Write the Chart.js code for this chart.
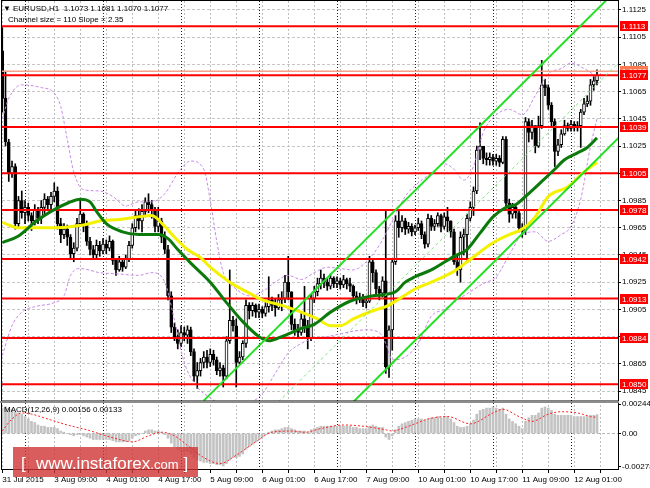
<!DOCTYPE html>
<html>
<head>
<meta charset="utf-8">
<script src="https://cdn.jsdelivr.net/npm/chart.js@4.4.1/dist/chart.umd.min.js"></script>
<style>
  html, body { margin: 0; padding: 0; background: #fff; }
  #wrap { width: 650px; height: 488px; }
</style>
</head>
<body>
<div id="wrap"><canvas id="chart" width="650" height="488"></canvas></div>
<script>
// EURUSD H1, 31 Jul 17:00 .. 12 Aug 08:00 (bar index 0..183)
const timeLabels = ['31 Jul 2015', '3 Aug 09:00', '4 Aug 01:00', '4 Aug 17:00', '5 Aug 09:00', '6 Aug 01:00',
  '6 Aug 17:00', '7 Aug 09:00', '10 Aug 01:00', '10 Aug 17:00', '11 Aug 09:00', '12 Aug 01:00'];
const daySeparators = [7, 31, 55, 79, 103, 127, 151, 175];
const priceTicks = [1.0845, 1.0865, 1.0885, 1.0905, 1.0925, 1.0945, 1.0965, 1.0985,
  1.1005, 1.1025, 1.1045, 1.1065, 1.1085, 1.1105, 1.1125];
const macdTicks = [0.00244, 0, -0.00278];
const macdTickLabels = ['0.00244', '0.00', '-0.00278'];

// support / resistance levels
const levels = [1.1113, 1.1077, 1.1039, 1.1005, 1.0978, 1.0942, 1.0913, 1.0884, 1.0850];
const bidLevel = 1.1080;

const firstOpen = 1.1095;
const closes = [
  1.1060,1.1028,1.1005,1.1010,1.0968,1.0985,1.0976,1.0980,1.0974,1.0970,
  1.0978,1.0972,1.0980,1.0986,1.0982,1.0988,1.0992,1.0968,1.0960,1.0964,
  1.0958,1.0946,1.0950,1.0968,1.0975,1.0968,1.0955,1.0949,1.0945,1.0952,
  1.0948,1.0953,1.0950,1.0955,1.0941,1.0934,1.0940,1.0936,1.0942,1.0952,
  1.0965,1.0974,1.0970,1.0977,1.0984,1.0982,1.0978,1.0966,1.0970,1.0958,
  1.0949,1.0915,1.0892,1.0885,1.0880,1.0888,1.0886,1.0890,1.0874,1.0856,
  1.0860,1.0866,1.0870,1.0866,1.0872,1.0868,1.0860,1.0862,1.0856,1.0882,
  1.0897,1.0893,1.0866,1.0870,1.0880,1.0908,1.0904,1.0908,1.0903,1.0905,
  1.0902,1.0907,1.0912,1.0908,1.0906,1.0912,1.0913,1.0925,1.0918,1.0894,
  1.0890,1.0888,1.0898,1.0893,1.0884,1.0913,1.0918,1.0924,1.0928,1.0925,
  1.0922,1.0928,1.0924,1.0926,1.0923,1.0927,1.0924,1.0922,1.0915,1.0912,
  1.0914,1.0910,1.0911,1.0940,1.0932,1.0920,1.0917,1.0926,1.0863,1.0890,
  1.0940,1.0970,1.0965,1.0970,1.0964,1.0966,1.0962,1.0965,1.0968,1.0960,
  1.0953,1.0972,1.0966,1.0968,1.0974,1.0966,1.0973,1.0970,1.0962,1.0940,
  1.0934,1.0958,1.0960,1.0972,1.0980,1.0992,1.1022,1.1025,1.1016,1.1015,
  1.1017,1.1014,1.1016,1.1013,1.1030,1.0983,1.0975,1.0980,1.0976,1.0965,
  1.0963,1.1043,1.1035,1.1040,1.1025,1.1040,1.1070,1.1068,1.1055,1.1043,
  1.1021,1.1026,1.1034,1.1040,1.1038,1.1041,1.1039,1.1040,1.1050,1.1056,
  1.1058,1.1070,1.1073,1.1077
];
const highs = [
  1.1112,1.1080,1.1030,1.1014,1.1012,1.0988,1.0992,1.0985,1.0983,1.0976,
  1.0982,1.0980,1.0985,1.0990,1.0988,1.0991,1.0998,1.0995,1.0972,1.0968,
  1.0967,1.0960,1.0954,1.0972,1.0986,1.0976,1.0970,1.0958,1.0952,1.0956,
  1.0955,1.0957,1.0956,1.0959,1.0956,1.0942,1.0944,1.0942,1.0945,1.0955,
  1.0968,1.0978,1.0979,1.0982,1.0987,1.0990,1.0985,1.0980,1.0980,1.0972,
  1.0962,1.0952,1.0918,1.0895,1.0890,1.0893,1.0892,1.0893,1.0892,1.0876,
  1.0866,1.0869,1.0874,1.0875,1.0876,1.0875,1.0870,1.0866,1.0864,1.0885,
  1.0934,1.0900,1.0898,1.0874,1.0882,1.0912,1.0910,1.0910,1.0909,1.0909,
  1.0907,1.0910,1.0929,1.0914,1.0913,1.0916,1.0918,1.0930,1.0944,1.0918,
  1.0898,1.0894,1.0902,1.0922,1.0897,1.0916,1.0922,1.0928,1.0934,1.0931,
  1.0928,1.0931,1.0929,1.0929,1.0928,1.0930,1.0928,1.0928,1.0923,1.0918,
  1.0917,1.0916,1.0914,1.0944,1.0942,1.0934,1.0922,1.0929,1.0977,1.0893,
  1.0942,1.0974,1.0977,1.0974,1.0972,1.0969,1.0968,1.0967,1.0972,1.0970,
  1.0962,1.0975,1.0974,1.0971,1.0976,1.0975,1.0976,1.0980,1.0970,1.0964,
  1.0944,1.0962,1.0964,1.0975,1.0984,1.0995,1.1025,1.1042,1.1024,1.1020,
  1.1020,1.1019,1.1019,1.1018,1.1032,1.1032,1.0986,1.0983,1.0981,1.0977,
  1.0968,1.1046,1.1045,1.1044,1.1040,1.1047,1.1088,1.1074,1.1070,1.1057,
  1.1045,1.1030,1.1037,1.1044,1.1042,1.1044,1.1043,1.1043,1.1052,1.1060,
  1.1062,1.1074,1.1076,1.1081
];
const lows = [
  1.1050,1.1025,1.0999,1.1002,1.0964,1.0965,1.0972,1.0968,1.0970,1.0963,
  1.0967,1.0968,1.0968,1.0975,1.0978,1.0979,1.0984,1.0964,1.0954,1.0957,
  1.0952,1.0942,1.0940,1.0948,1.0966,1.0962,1.0952,1.0945,1.0942,1.0943,
  1.0944,1.0946,1.0946,1.0948,1.0938,1.0930,1.0933,1.0933,1.0935,1.0940,
  1.0950,1.0962,1.0964,1.0962,1.0973,1.0976,1.0972,1.0962,1.0962,1.0954,
  1.0946,1.0912,1.0888,1.0882,1.0876,1.0878,1.0882,1.0880,1.0871,1.0852,
  1.0847,1.0856,1.0862,1.0862,1.0863,1.0864,1.0857,1.0856,1.0848,1.0854,
  1.0880,1.0889,1.0848,1.0865,1.0868,1.0877,1.0898,1.0900,1.0899,1.0899,
  1.0899,1.0900,1.0903,1.0904,1.0900,1.0905,1.0904,1.0910,1.0912,1.0890,
  1.0886,1.0884,1.0886,1.0888,1.0876,1.0882,1.0910,1.0915,1.0920,1.0921,
  1.0919,1.0920,1.0921,1.0921,1.0920,1.0921,1.0920,1.0918,1.0912,1.0909,
  1.0910,1.0907,1.0906,1.0910,1.0925,1.0916,1.0912,1.0914,1.0858,1.0855,
  1.0875,1.0938,1.0958,1.0962,1.0960,1.0961,1.0959,1.0960,1.0963,1.0957,
  1.0950,1.0951,1.0963,1.0963,1.0966,1.0962,1.0964,1.0962,1.0958,1.0938,
  1.0930,1.0925,1.0945,1.0940,1.0970,1.0974,1.0990,1.1015,1.1012,1.1011,
  1.1011,1.1011,1.1011,1.1010,1.1012,1.0980,1.0969,1.0972,1.0972,1.0962,
  1.0958,1.0960,1.1028,1.1030,1.1020,1.1024,1.1038,1.1062,1.1052,1.1039,
  1.1010,1.1018,1.1024,1.1033,1.1036,1.1036,1.1036,1.1036,1.1024,1.1048,
  1.1054,1.1055,1.1066,1.1070
];

// indicator lines: [bar index, value]
const maGreen = [[0,1.0954],[5,1.0959],[10,1.0969],[15,1.0977],[20,1.0983],[24,1.0986],[27,1.0984],
  [29,1.0977],[32,1.0968],[37,1.0962],[42,1.0960],[48,1.0960],[51,1.0957],[54,1.0949],[58,1.0939],
  [64,1.0925],[69,1.0910],[74,1.0896],[79,1.0885],[82,1.0882],[86,1.0885],[92,1.0891],[96,1.0894],
  [101,1.0903],[107,1.0911],[114,1.0915],[118,1.0916],[121,1.0918],[124,1.0925],[127,1.0929],
  [132,1.0934],[139,1.0944],[143,1.0949],[147,1.0961],[151,1.0973],[155,1.0980],[158,1.0982],
  [161,1.0988],[166,1.0999],[170,1.1008],[173,1.1015],[177,1.1020],[180,1.1024],[183,1.1031]];
const maYellow = [[0,1.0969],[5,1.0965],[15,1.0965],[25,1.0967],[30,1.0970],[36,1.0971],[42,1.0973],
  [46,1.0974],[50,1.0966],[53,1.0958],[57,1.0949],[61,1.0943],[64,1.0936],[70,1.0925],[76,1.0917],
  [80,1.0912],[86,1.0908],[92,1.0903],[97,1.0898],[101,1.0893],[104,1.0893],[108,1.0898],[114,1.0904],
  [118,1.0907],[121,1.0911],[127,1.0920],[132,1.0925],[139,1.0933],[143,1.0940],[151,1.0954],
  [156,1.0960],[160,1.0964],[164,1.0973],[168,1.0988],[174,1.0995],[179,1.1006],[183,1.1013]];
const bandUpper = [[0,1.1045],[2,1.1060],[6,1.1070],[12,1.1068],[16,1.1064],[18,1.1054],[20,1.1030],
  [22,1.1006],[25,1.0993],[30,1.0992],[34,1.0988],[38,1.0981],[42,1.0984],[46,1.0984],[50,1.0990],
  [54,1.1005],[58,1.1014],[62,1.1008],[64,1.0985],[66,1.0955],[68,1.0932],[72,1.0920],[76,1.0915],
  [80,1.0918],[84,1.0925],[88,1.0930],[92,1.0927],[96,1.0932],[100,1.0936],[104,1.0935],[108,1.0934],
  [112,1.0940],[116,1.0952],[120,1.0970],[124,1.0988],[128,1.0998],[132,1.1005],[136,1.1012],
  [139,1.1008],[142,1.1000],[145,1.1010],[148,1.1035],[152,1.1048],[156,1.1052],[160,1.1048],
  [164,1.1062],[168,1.1078],[172,1.1082],[175,1.1086],[179,1.1082],[183,1.1076]];
const bandLower = [[0,1.0871],[3,1.0893],[6,1.0903],[10,1.0907],[16,1.0910],[19,1.0915],[21,1.0930],
  [24,1.0935],[30,1.0932],[36,1.0931],[42,1.0930],[46,1.0932],[50,1.0925],[53,1.0897],[56,1.0866],
  [60,1.0848],[64,1.0840],[68,1.0834],[72,1.0833],[76,1.0836],[80,1.0843],[84,1.0858],[88,1.0873],
  [92,1.0880],[96,1.0884],[100,1.0885],[104,1.0887],[108,1.0889],[112,1.0890],[116,1.0888],
  [118,1.0880],[120,1.0868],[124,1.0870],[128,1.0880],[132,1.0900],[136,1.0905],[140,1.0912],
  [144,1.0918],[148,1.0924],[152,1.0929],[156,1.0945],[160,1.0960],[164,1.0962],[168,1.0955],
  [172,1.0960],[175,1.0966],[178,1.0986],[181,1.1025],[183,1.1045]];

// regression channel (size 110, slope 2.35)
const channelUpper = [[62, 1.0838], [190, 1.1142]];
const channelMid = [[85, 1.0837], [190, 1.1087]];
const channelLower = [[108, 1.0837], [190, 1.1032]];

// MACD(12,26,9)
const macdHist = [
  0.0021,0.0022,0.0021,0.0020,0.0018,0.0017,0.0016,0.0014,0.0012,0.0010,
  0.0009,0.0007,0.0006,0.0006,0.0005,0.0005,0.0005,0.0004,0.0002,0.0001,
  0.0000,-0.0001,-0.0002,-0.0001,-0.0001,-0.0002,-0.0003,-0.0004,-0.0005,-0.0005,
  -0.0005,-0.0005,-0.0005,-0.0005,-0.0006,-0.0007,-0.0007,-0.0007,-0.0007,-0.0006,
  -0.0004,-0.0002,-0.0001,0.0000,0.0002,0.0003,0.0003,0.0002,0.0002,0.0001,
  -0.0001,-0.0004,-0.0008,-0.0011,-0.0013,-0.0014,-0.0015,-0.0015,-0.0017,-0.0020,
  -0.0022,-0.0023,-0.0024,-0.0024,-0.0025,-0.0025,-0.0026,-0.0026,-0.0027,-0.0025,
  -0.0022,-0.0020,-0.0020,-0.0019,-0.0017,-0.0013,-0.0011,-0.0009,-0.0007,-0.0005,
  -0.0003,-0.0001,0.0001,0.0002,0.0003,0.0003,0.0004,0.0005,0.0005,0.0004,
  0.0003,0.0002,0.0002,0.0002,0.0001,0.0003,0.0004,0.0005,0.0006,0.0006,
  0.0006,0.0006,0.0006,0.0006,0.0006,0.0006,0.0006,0.0006,0.0005,0.0005,
  0.0004,0.0004,0.0004,0.0006,0.0007,0.0006,0.0005,0.0005,-0.0003,-0.0005,
  -0.0002,0.0003,0.0006,0.0008,0.0009,0.0010,0.0011,0.0012,0.0012,0.0012,
  0.0011,0.0012,0.0013,0.0013,0.0014,0.0013,0.0014,0.0014,0.0012,0.0009,
  0.0006,0.0005,0.0005,0.0006,0.0008,0.0011,0.0016,0.0019,0.0020,0.0021,
  0.0021,0.0022,0.0021,0.0020,0.0021,0.0016,0.0012,0.0010,0.0008,0.0006,
  0.0004,0.0010,0.0013,0.0015,0.0015,0.0017,0.0021,0.0022,0.0021,0.0019,
  0.0016,0.0015,0.0015,0.0015,0.0015,0.0015,0.0014,0.0014,0.0014,0.0014,
  0.0014,0.0015,0.0015,0.00156
];
const macdSignal = [[0,0.0002],[3,0.0012],[6,0.0017],[9,0.0016],[14,0.0012],[20,0.0007],[26,0.0003],
  [32,-0.0002],[36,-0.0005],[40,-0.0007],[45,-0.0002],[49,0.0001],[53,-0.0002],[57,-0.0010],
  [62,-0.0020],[67,-0.0025],[72,-0.0018],[78,-0.0007],[83,0.0001],[89,0.0002],[93,0.0001],
  [98,0.0004],[105,0.0007],[111,0.0006],[118,0.0003],[120,0.0002],[124,0.0005],[127,0.0008],
  [131,0.0012],[137,0.0014],[144,0.0008],[151,0.0017],[154,0.0020],[159,0.0014],[163,0.0010],
  [168,0.0016],[172,0.0018],[177,0.0017],[181,0.0014],[183,0.00133]];

const FONT = "'Liberation Sans', 'DejaVu Sans', sans-serif";
Chart.defaults.font.family = FONT;
Chart.defaults.font.size = 8;
Chart.defaults.color = '#000';

const opens = closes.map((c, i) => i === 0 ? firstOpen : closes[i - 1]);
const bars = closes.map((c, i) => i);
const toXY = arr => arr.map(p => ({ x: p[0], y: p[1] }));

const wickData = bars.map(i => ({ x: i, y: [lows[i], highs[i]] }));
const bodyData = bars.map(i => ({ x: i, y: [Math.min(opens[i], closes[i]), Math.max(opens[i], closes[i])] }));
const bodyColors = bars.map(i => closes[i] >= opens[i] ? '#ffffff' : '#000000');

function lineSet(points, color, width, dash, order, axis) {
  return {
    type: 'line', data: toXY(points), borderColor: color, borderWidth: width,
    borderDash: dash || [], pointRadius: 0, fill: false, order: order,
    cubicInterpolationMode: 'monotone', yAxisID: axis || 'y'
  };
}

const levelSets = levels.map(v => lineSet([[-1, v], [191, v]], '#ff0000', 2, null, 5));
levelSets.push(lineSet([[-1, bidLevel], [191, bidLevel]], '#f4a38a', 1.5, null, 5));

// no extra room for the end tick labels, the panes fill the canvas like MT4
const noPad = s => { s.paddingTop = 0; s.paddingBottom = 0; s.paddingLeft = 0; s.paddingRight = 0; };

// clip every dataset to its own panel, draw separators, frames and texts
const mt4 = {
  id: 'mt4',
  beforeDatasetsDraw(chart) {
    const { ctx, chartArea: a, scales: { x } } = chart;
    ctx.save();
    ctx.strokeStyle = '#202020';
    ctx.lineWidth = 1;
    ctx.setLineDash([1, 2]);
    daySeparators.forEach(v => {
      const px = Math.round(x.getPixelForValue(v)) + 0.5;
      ctx.beginPath(); ctx.moveTo(px, a.top); ctx.lineTo(px, a.bottom); ctx.stroke();
    });
    ctx.restore();
  },
  beforeDatasetDraw(chart, args) {
    const ys = args.meta.yScale, a = chart.chartArea, ctx = chart.ctx;
    ctx.save();
    ctx.beginPath();
    ctx.rect(a.left, ys.top, a.right - a.left, ys.bottom - ys.top);
    ctx.clip();
  },
  afterDatasetDraw(chart) {
    chart.ctx.restore();
  },
  afterDraw(chart) {
    const { ctx, chartArea: a, scales: { y, m } } = chart;
    ctx.save();
    // frames
    ctx.strokeStyle = '#000';
    ctx.lineWidth = 1;
    ctx.strokeRect(a.left - 0.5, 0.5, a.right - a.left + 1, y.bottom - 0.5);
    ctx.strokeRect(a.left - 0.5, m.top + 1.5, a.right - a.left + 1, m.bottom - m.top - 1);
    ctx.fillStyle = '#8c8c8c';
    ctx.fillRect(0, y.bottom, a.right + 1, 2);

    // level labels on the price axis
    ctx.font = '8px ' + FONT;
    ctx.textBaseline = 'middle';
    const tag = (v, color) => {
      const py = Math.round(y.getPixelForValue(v));
      ctx.fillStyle = color;
      ctx.fillRect(a.right + 2, py - 5, 28, 10);
      ctx.fillStyle = '#fff';
      ctx.fillText(v.toFixed(4), a.right + 4, py + 0.5);
    };
    tag(bidLevel, '#ff7a50');
    levels.forEach(v => tag(v, '#ff0000'));

    // titles
    ctx.fillStyle = '#000';
    ctx.textBaseline = 'alphabetic';
    ctx.fillText('\u25BC', 3, 11);
    ctx.fillText('EURUSD,H1  1.1073 1.1081 1.1070 1.1077', 13, 11);
    ctx.fillText('Channel size = 110 Slope = 2.35', 8, 22);
    ctx.fillText('MACD(12,26,9) 0.00156 0.00133', 4, m.top + 11);

    // watermark
    ctx.fillStyle = 'rgba(208, 52, 52, 0.8)';
    ctx.fillRect(13, 447, 185, 30);
    ctx.fillStyle = '#fff';
    ctx.font = '17px ' + FONT;
    ctx.fillText('[', 21, 469);
    ctx.fillText('www.instaforex', 36, 469);
    const w = ctx.measureText('www.instaforex').width;
    ctx.font = '13px ' + FONT;
    ctx.fillText('.com', 36 + w, 469);
    const w2 = ctx.measureText('.com').width;
    ctx.font = '17px ' + FONT;
    ctx.fillText(']', 36 + w + w2 + 5, 469);
    ctx.restore();
  }
};

new Chart(document.getElementById('chart'), {
  type: 'bar',
  data: {
    datasets: [
      { type: 'bar', data: wickData, backgroundColor: '#000', barThickness: 1, grouped: false, order: 8, yAxisID: 'y' },
      { type: 'bar', data: bodyData, backgroundColor: bodyColors, borderColor: '#000', borderWidth: 1,
        borderSkipped: false, barThickness: 3, minBarLength: 1, grouped: false, order: 7, yAxisID: 'y' },
      lineSet(bandUpper, '#c78ae8', 1, [3, 2], 6),
      lineSet(bandLower, '#c78ae8', 1, [3, 2], 6),
      ...levelSets,
      lineSet(maYellow, '#f5f200', 3, null, 4),
      lineSet(maGreen, '#0b7a0b', 3, null, 3),
      lineSet(channelMid, '#7fe37f', 1, [3, 3], 2),
      lineSet(channelUpper, '#22e022', 2, null, 1),
      lineSet(channelLower, '#22e022', 2, null, 1),
      { type: 'bar', data: bars.map(i => ({ x: i, y: macdHist[i] })), backgroundColor: '#c3c3c3',
        barThickness: 2, grouped: false, order: 9, yAxisID: 'm' },
      lineSet(macdSignal, '#ff2020', 1, [2, 2], 1, 'm')
    ]
  },
  options: {
    responsive: false,
    devicePixelRatio: 1,
    animation: false,
    layout: { padding: { left: 2, top: 1, right: 0, bottom: 0 } },
    plugins: { legend: { display: false }, tooltip: { enabled: false } },
    scales: {
      x: {
        type: 'linear', min: -0.08, max: 189.46, offset: false,
        afterBuildTicks: axis => {
          axis.ticks = [];
          for (let v = 0; v <= 184; v += 8) axis.ticks.push({ value: v });
        },
        afterFit: s => { s.height = 19; noPad(s); },
        ticks: {
          autoSkip: false, maxRotation: 0, align: 'start', padding: 2,
          callback: v => (v % 16 === 0 ? timeLabels[v / 16] : '')
        },
        grid: { offset: false, color: '#bdbdbd', tickColor: '#000', tickLength: 4 },
        border: { display: false, dash: [2, 2] }
      },
      y: {
        type: 'linear', position: 'right', stack: 'panes', stackWeight: 400,
        min: 1.08377, max: 1.11316,
        afterBuildTicks: axis => { axis.ticks = priceTicks.map(v => ({ value: v })); },
        afterFit: s => { s.width = 32; noPad(s); },
        ticks: { padding: 1, callback: v => v.toFixed(4) },
        grid: { color: '#c6c6c6', tickColor: '#000', tickLength: 3 },
        border: { display: false, dash: [3, 2] }
      },
      m: {
        type: 'linear', position: 'right', stack: 'panes', stackWeight: 68,
        min: -0.00295, max: 0.00269,
        afterBuildTicks: axis => { axis.ticks = macdTicks.map(v => ({ value: v })); },
        afterFit: s => { s.width = 32; noPad(s); },
        ticks: { padding: 1, callback: (v, i) => macdTickLabels[i] },
        grid: { color: c => (c.tick && c.tick.value === 0 ? '#b5b5b5' : 'rgba(0,0,0,0)'), tickColor: '#000', tickLength: 3 },
        border: { display: false, dash: [3, 2] }
      }
    }
  },
  plugins: [mt4]
});
</script>
</body>
</html>
